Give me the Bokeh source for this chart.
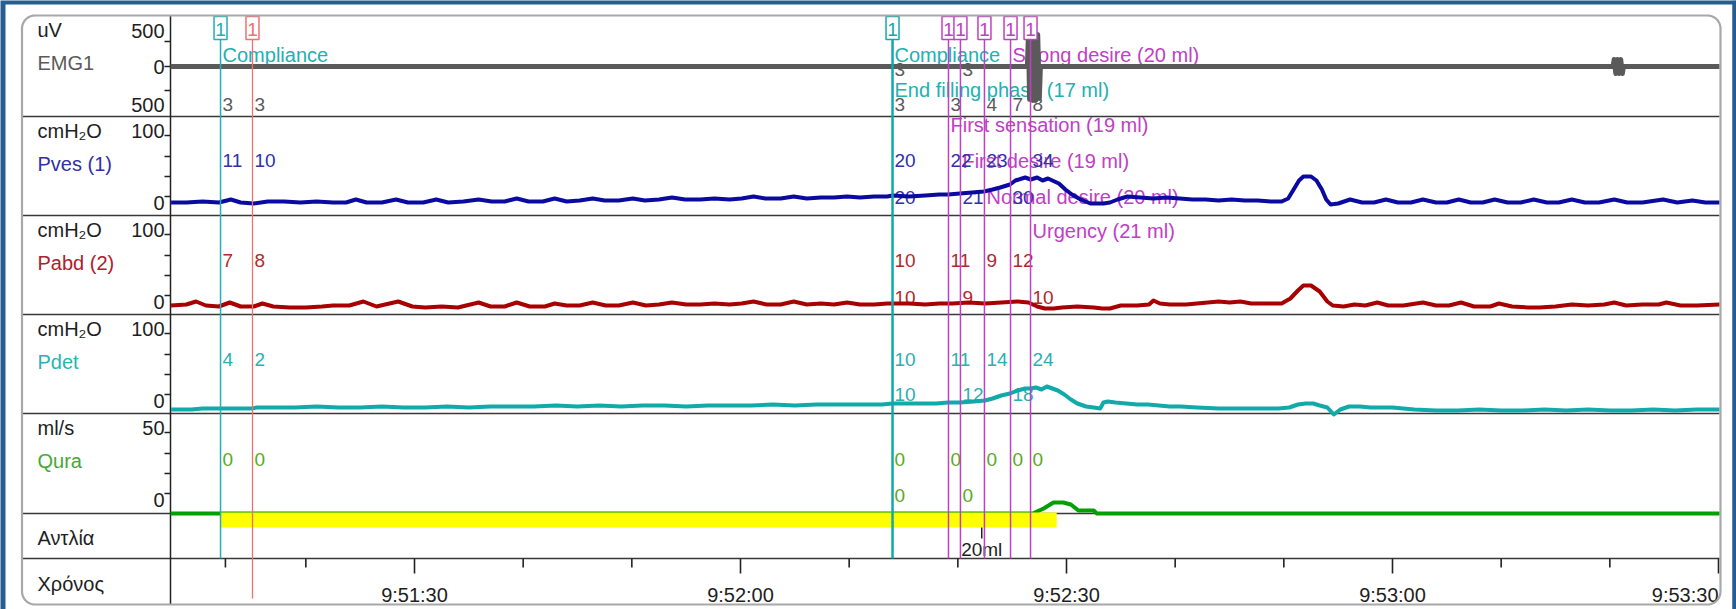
import numpy as np
from bokeh.plotting import figure
from bokeh.models import Range1d, ColumnDataSource
from bokeh.core.properties import value
from bokeh.embed import file_html
from bokeh.resources import INLINE

# ================= DATA (time = seconds after 9:51:00) =================
time_major = [30, 60, 90, 120, 150]
time_major_labels = ["9:51:30", "9:52:00", "9:52:30", "9:53:00", "9:53:30"]
time_minor = [12.6, 20, 40, 50, 70, 80, 100, 110, 130, 140]

channel_names = ["EMG1", "Pves (1)", "Pabd (2)", "Pdet", "Qura"]
channel_units = ["uV", "cmH₂O", "cmH₂O", "cmH₂O", "ml/s"]
channel_top_labels = ["500", "100", "100", "100", "50"]

emg = [(7.55, 0), (86.4, 0), (86.5, 330), (86.6, -330), (86.75, 340), (86.9, -340),
       (87.05, 330), (87.2, -335), (87.35, 320), (87.5, -320), (87.6, 0), (140.3, 0),
       (140.4, 70), (140.55, -70), (140.7, 70), (140.85, -70), (141.0, 70), (141.15, -70),
       (141.25, 0), (150.1, 0)]

pves = [(7.6, 11), (9.0, 11), (10.5, 12), (12.0, 11), (13.1, 14), (14.0, 11), (15.2, 10), (16.5, 12),
        (18.0, 12), (19.5, 11), (21.0, 12), (22.5, 11), (23.7, 11), (24.6, 14), (25.6, 11), (27.0, 11),
        (28.3, 14), (29.4, 11), (30.8, 11), (32.0, 14), (33.1, 11), (34.5, 12), (35.9, 14), (37.1, 12),
        (38.3, 12), (39.4, 15), (40.5, 12), (41.8, 12), (42.9, 15), (44.0, 12), (45.2, 13), (46.4, 15),
        (47.5, 13), (48.8, 13), (50.1, 15), (51.2, 13), (52.5, 14), (53.7, 16), (54.9, 14), (56.3, 14),
        (57.6, 15), (59.0, 14), (60.1, 15), (61.2, 17), (62.3, 15), (63.7, 15), (64.9, 17), (66.1, 15),
        (67.4, 16), (68.6, 16), (69.8, 17), (71.0, 16), (72.3, 17), (73.5, 17), (74.0, 18), (75.5, 17),
        (77.0, 18), (78.3, 19), (79.1, 19), (80.2, 20), (81.3, 21), (82.4, 22), (83.2, 24), (83.9, 26),
        (84.8, 29), (85.3, 33), (86.2, 36), (86.7, 34), (87.3, 36), (87.8, 33), (88.3, 35), (88.7, 33),
        (89.3, 30), (89.9, 24), (90.5, 19), (91.3, 14), (92.2, 10), (93.4, 10), (94.0, 11), (94.7, 14),
        (95.6, 17), (96.8, 16), (98.0, 15), (99.2, 16), (100.4, 15), (101.6, 14), (102.8, 14), (104.0, 13),
        (105.2, 14), (106.4, 13), (107.6, 13), (108.8, 12), (109.8, 12), (110.4, 15), (110.9, 24),
        (111.4, 33), (111.8, 37), (112.5, 37), (113.0, 33), (113.5, 24), (113.9, 14), (114.3, 9),
        (115.0, 10), (116.1, 14), (117.2, 11), (118.3, 11), (119.4, 14), (120.5, 11), (121.7, 11),
        (122.8, 14), (124.0, 11), (125.0, 11), (126.1, 14), (127.2, 11), (128.3, 11), (129.4, 14),
        (130.6, 11), (131.8, 11), (133.0, 14), (134.2, 11), (135.3, 11), (136.5, 14), (137.7, 11),
        (139.0, 11), (140.4, 14), (141.6, 11), (143.0, 11), (144.9, 14), (146.2, 11), (147.6, 13),
        (148.8, 11), (150.1, 11)]

pabd = [(7.6, 8), (9.0, 9), (9.9, 12), (10.8, 8), (12.0, 7), (13.0, 11), (14.0, 7), (15.2, 7), (16.0, 10),
        (17.0, 7), (18.5, 6), (20.0, 6), (21.5, 7), (22.5, 8), (24.0, 8), (25.3, 12), (26.5, 7), (28.5, 12),
        (29.8, 7), (31.0, 6), (32.5, 7), (34.0, 6), (35.9, 11), (37.0, 7), (38.3, 7), (39.4, 11), (40.6, 7),
        (42.0, 7), (42.9, 10), (44.0, 8), (45.2, 8), (46.4, 11), (47.6, 8), (48.8, 8), (50.1, 11), (51.3, 8),
        (52.5, 9), (53.7, 11), (55.0, 9), (56.3, 9), (57.6, 10), (59.0, 9), (60.1, 10), (61.2, 12), (62.4, 9),
        (63.7, 9), (64.9, 12), (66.1, 9), (67.4, 10), (68.6, 9), (69.8, 11), (71.0, 9), (72.3, 9), (73.5, 10),
        (74.0, 10), (75.5, 10), (77.0, 9), (78.3, 10), (79.5, 10), (81.0, 11), (82.5, 10), (84.0, 11),
        (85.5, 12), (86.5, 11), (87.3, 7), (88.0, 5), (88.8, 5), (89.6, 6), (91.0, 7), (92.5, 6), (93.3, 5),
        (94.0, 5), (95.0, 8), (96.5, 8), (97.6, 9), (98.0, 13), (98.6, 10), (99.5, 9), (101.0, 9),
        (102.0, 10), (103.0, 11), (104.0, 12), (105.0, 11), (106.0, 12), (107.0, 10), (108.5, 10),
        (109.8, 10), (110.6, 15), (111.3, 23), (111.8, 28), (112.5, 28), (113.3, 22), (114.0, 12),
        (114.5, 8), (115.5, 7), (116.5, 9), (117.5, 8), (118.6, 11), (119.6, 8), (121.0, 8), (122.8, 11),
        (124.0, 8), (125.2, 8), (126.3, 11), (127.5, 7), (129.0, 7), (129.8, 10), (131.0, 7), (132.5, 6),
        (133.5, 6), (135.0, 7), (136.5, 9), (138.0, 8), (139.5, 9), (140.4, 11), (141.5, 8), (143.0, 9),
        (144.5, 9), (145.2, 11), (146.5, 8), (148.0, 8), (150.1, 9)]

pdet = [(7.6, 3), (9.5, 3), (10.5, 4), (12.0, 4), (13.5, 4), (15.0, 4), (15.5, 5), (17.0, 5), (19.0, 5),
        (21.0, 6), (23.0, 5), (25.0, 5), (27.0, 6), (29.0, 5), (31.0, 5), (33.0, 6), (35.0, 5), (37.0, 6),
        (39.0, 6), (41.0, 6), (43.0, 7), (45.0, 6), (47.0, 7), (49.0, 6), (51.0, 7), (53.0, 7), (55.0, 6),
        (57.0, 7), (59.0, 7), (61.0, 7), (63.0, 8), (65.0, 7), (67.0, 8), (69.0, 8), (71.0, 8), (73.0, 8),
        (74.0, 9), (76.0, 9), (78.0, 9), (79.1, 10), (80.2, 10), (81.5, 11), (82.5, 12), (83.2, 14),
        (84.0, 17), (84.8, 19), (85.5, 22), (86.2, 24), (86.7, 24), (87.2, 25), (87.7, 23), (88.2, 26),
        (88.7, 24), (89.2, 22), (89.8, 18), (90.4, 13), (91.0, 9), (91.8, 6), (92.5, 5), (93.1, 4),
        (93.4, 10), (93.8, 11), (94.5, 10), (95.5, 9), (96.5, 8), (97.5, 8), (98.5, 7), (99.5, 6),
        (100.5, 6), (102.0, 5), (104.0, 4), (106.0, 4), (108.0, 4), (109.5, 4), (110.5, 5), (111.3, 8),
        (112.0, 9), (112.7, 9), (113.3, 7), (114.0, 5), (114.6, -2), (115.2, 3), (116.0, 6), (117.0, 6),
        (118.0, 5), (119.0, 5), (120.0, 5), (121.0, 4), (122.0, 3), (124.0, 2), (126.0, 2), (128.0, 3),
        (130.0, 2), (132.0, 2), (134.0, 3), (136.0, 2), (138.0, 3), (140.0, 2), (142.0, 2), (144.0, 3),
        (146.0, 2), (148.0, 3), (150.1, 3)]

qura = [(7.55, 0), (86.9, 0), (87.9, 2.5), (88.8, 5.5), (89.7, 5.5), (90.4, 4.5), (91.1, 1.5),
        (91.8, 1.5), (92.5, 1.5), (92.8, 0), (150.1, 0)]

pump_on, pump_off = 12.15, 89.1          # Αντλία (pump) running
pump_mark_t, pump_mark_label = 82.2, "20ml"

marker_t = [12.15, 15.09, 73.99, 79.14, 80.24, 82.45, 84.85, 86.69]
marker_kind = ["c1", "r", "c2", "m", "m", "m", "m", "m"]
marker_box_label = ["1", "1", "1", "1", "1", "1", "1", "1"]

event_text = ["Compliance", "Compliance", "End filling phase (17 ml)", "Strong desire (20 ml)",
              "First sensation (19 ml)", "First desire (19 ml)", "Normal desire (20 ml)", "Urgency (21 ml)"]
event_marker = [0, 2, 2, 6, 3, 4, 5, 7]
event_slot = [0, 0, 1, 0, 2, 3, 4, 5]

readouts = {
    "emg":  ({0: "3", 1: "3", 2: "3", 3: "3", 5: "4", 6: "7", 7: "8"}, {2: "3", 4: "3"}),
    "pves": ({0: "11", 1: "10", 2: "20", 3: "22", 5: "23", 7: "34"}, {2: "20", 4: "21", 6: "30"}),
    "pabd": ({0: "7", 1: "8", 2: "10", 3: "11", 5: "9", 6: "12"}, {2: "10", 4: "9", 7: "10"}),
    "pdet": ({0: "4", 1: "2", 2: "10", 3: "11", 5: "14", 7: "24"}, {2: "10", 4: "12", 6: "18"}),
    "qura": ({0: "0", 1: "0", 2: "0", 3: "0", 5: "0", 6: "0", 7: "0"}, {2: "0", 4: "0"}),
}

# ================= LAYOUT / STYLE =================
W, H = 1736, 609
PX_PER_S = 326 / 30.0
X_AT_60 = 740
T0 = 60 - X_AT_60 / PX_PER_S
T1 = 60 + (W - X_AT_60) / PX_PER_S
FONT = value("Liberation Sans")
BLUE_BG = "#285d8f"
DARK = "#1e1e1e"
CYAN, CYAN2, RED, MAG = "#22b0b2", "#12a8aa", "#f07070", "#c040c4"
AX_X, LEFT_X, RIGHT_X = 170, 21, 1719
ROW_TOPS = [15, 116, 215, 314, 413]
SEPS = [116, 215, 314, 413, 513, 558]
BOTTOM_Y = 604

CH = ["emg", "pves", "pabd", "pdet", "qura"]
ZERO = {"emg": 66, "pves": 213, "pabd": 313, "pdet": 412, "qura": 513}
KPX = {"emg": 0.1, "pves": 1.0, "pabd": 1.0, "pdet": 1.0, "qura": 2.0}
TRACE_COL = {"emg": "#5a5a5a", "pves": "#0a0aa0", "pabd": "#a80000", "pdet": "#10aaaa", "qura": "#00a000"}
TRACE_W = {"emg": 5, "pves": 4, "pabd": 4, "pdet": 4, "qura": 4}
NAME_COL = ["#5a5a5a", "#3030a8", "#b0202a", "#2ab3b3", "#44aa33"]
READ_COL = {"emg": "#5a5a5a", "pves": "#3030a8", "pabd": "#b02a2a", "pdet": "#2ab0b0", "qura": "#5aaa22"}
READ_Y = {"emg": (104, 69), "pves": (160, 197), "pabd": (260, 297), "pdet": (359, 394), "qura": (459, 495)}
SLOT_Y = [54, 89, 124.5, 160, 196, 230]

p = figure(width=W, height=H, x_range=Range1d(T0, T1), y_range=Range1d(H, 0),
           output_backend="svg", toolbar_location=None, tools="",
           x_axis_location=None, y_axis_location=None, min_border=0,
           background_fill_color=BLUE_BG, border_fill_color=BLUE_BG, outline_line_color=None)
p.grid.visible = False
p.extra_x_ranges = {"px": Range1d(0, W)}
p.extra_y_ranges = {c: Range1d(start=(ZERO[c] - H) / KPX[c], end=ZERO[c] / KPX[c]) for c in CH}

# white panel
p.quad(left=[5], right=[1732], top=[4], bottom=[H], x_range_name="px", fill_color="white", line_color=None)

# separators, axis line, left ticks
p.segment(x0=[LEFT_X] * len(SEPS), x1=[RIGHT_X] * len(SEPS), y0=SEPS, y1=SEPS,
          x_range_name="px", line_color="#383838", line_width=1.6)
p.segment(x0=[AX_X], x1=[AX_X], y0=[15], y1=[BOTTOM_Y], x_range_name="px", line_color="#222222", line_width=1.5)
tick_y = [41, 66, 90]
for rt in ROW_TOPS[1:]:
    tick_y += [rt + 19, rt + 40, rt + 60, rt + 80]
p.segment(x0=[AX_X - 6] * len(tick_y), x1=[AX_X] * len(tick_y), y0=tick_y, y1=tick_y,
          x_range_name="px", line_color="#222222", line_width=1.3)

# time axis ticks and labels (last label kept inside the frame)
p.segment(x0=time_major, x1=time_major, y0=[558] * 5, y1=[573] * 5, line_color="#222222", line_width=1.6)
p.segment(x0=time_minor, x1=time_minor, y0=[558] * len(time_minor), y1=[567] * len(time_minor),
          line_color="#222222", line_width=1.6)
talign = ["center"] * (len(time_major) - 1) + ["right"]
p.text(x="x", y="y", text="t", text_align="a",
       source=ColumnDataSource(dict(x=time_major, y=[594] * len(time_major), t=time_major_labels, a=talign)),
       text_font=FONT, text_font_size="20px", text_color=DARK, text_baseline="middle")

# left labels
lx, ly, lt, la, lc = [], [], [], [], []
def add(x, y, t, a, c):
    lx.append(x); ly.append(y); lt.append(t); la.append(a); lc.append(c)
add(37, 29.5, channel_units[0], "left", DARK)
add(164, 30.5, channel_top_labels[0], "right", DARK)
add(37, 62, channel_names[0], "left", NAME_COL[0])
add(164, 66, "0", "right", DARK)
add(164, 104, "500", "right", DARK)
for i in range(1, 5):
    rt = ROW_TOPS[i]
    add(37, rt + 14, channel_units[i], "left", DARK)
    add(164, rt + 14, channel_top_labels[i], "right", DARK)
    add(37, rt + 47, channel_names[i], "left", NAME_COL[i])
    add(164, rt + 86, "0", "right", DARK)
add(37, 537, "Αντλία", "left", DARK)
add(37, 583, "Χρόνος", "left", DARK)
p.text(x="x", y="y", text="t", text_align="a", text_color="c", x_range_name="px",
       source=ColumnDataSource(dict(x=lx, y=ly, t=lt, a=la, c=lc)),
       text_font=FONT, text_font_size="20px", text_baseline="middle")

# event texts
ex = [marker_t[m] for m in event_marker]
ey = [SLOT_Y[s] for s in event_slot]
ec = [CYAN if marker_kind[m].startswith("c") else MAG for m in event_marker]
p.text(x="x", y="y", text="t", text_color="c", x_offset=2,
       source=ColumnDataSource(dict(x=ex, y=ey, t=event_text, c=ec)),
       text_font=FONT, text_font_size="20px", text_baseline="middle", text_align="left")

# readout numbers
rx, ry, rtx, rc = [], [], [], []
for ch, (upper, lower) in readouts.items():
    for k, dct in enumerate((upper, lower)):
        for idx, txt in dct.items():
            rx.append(marker_t[idx]); ry.append(READ_Y[ch][k]); rtx.append(txt); rc.append(READ_COL[ch])
p.text(x="x", y="y", text="t", text_color="c", x_offset=2,
       source=ColumnDataSource(dict(x=rx, y=ry, t=rtx, c=rc)),
       text_font=FONT, text_font_size="19px", text_baseline="middle", text_align="left")

# traces
for ch, data in zip(CH, [emg, pves, pabd, pdet, qura]):
    p.line([a for a, b in data], [b for a, b in data], y_range_name=ch,
           line_color=TRACE_COL[ch], line_width=TRACE_W[ch], line_join="round")

# pump bar
p.quad(left=[pump_on], right=[pump_off], top=[512], bottom=[527], fill_color="#ffff00", line_color=None)
p.segment(x0=[pump_mark_t], x1=[pump_mark_t], y0=[527], y1=[538], line_color="#222222", line_width=1.5)
p.text(x=[pump_mark_t], y=[549], text=[pump_mark_label], text_font=FONT, text_font_size="19px",
       text_color=DARK, text_align="center", text_baseline="middle", x_offset=0)

# markers
MCOL = {"c1": CYAN, "c2": CYAN2, "r": RED, "m": MAG}
MW = {"c1": 1.5, "c2": 2.5, "r": 1.3, "m": 1.5}
for t, k in zip(marker_t, marker_kind):
    p.segment(x0=[t], x1=[t], y0=[39], y1=[598 if k == "r" else 558], line_color=MCOL[k], line_width=MW[k])
mc = [MCOL[k] for k in marker_kind]
p.rect(x=marker_t, y=[27.5] * len(marker_t), width=13, height=23, width_units="screen",
       fill_color="white", line_color=mc, line_width=1.5)
p.text(x=marker_t, y=[28.5] * len(marker_t), text=marker_box_label, text_color=mc, text_font=FONT,
       text_font_size="19px", text_align="center", text_baseline="middle")

# right edge of the panel
p.quad(left=[1732], right=[W], top=[0], bottom=[H], x_range_name="px", fill_color=BLUE_BG, line_color=None)

# rounded frame
def rounded(l, t, r, b, rad, n=12):
    xs, ys = [], []
    for cx, cy, a0, a1 in [(r - rad, t + rad, -90, 0), (r - rad, b - rad, 0, 90),
                           (l + rad, b - rad, 90, 180), (l + rad, t + rad, 180, 270)]:
        for a in np.linspace(np.radians(a0), np.radians(a1), n):
            xs.append(cx + rad * np.cos(a)); ys.append(cy + rad * np.sin(a))
    return xs + xs[:1], ys + ys[:1]
bx, by = rounded(21.5, 15, 1720, BOTTOM_Y, 13)
p.line(bx, by, x_range_name="px", line_color="#a8a8a8", line_width=2.2)

open("out.html", "w").write(file_html(p, INLINE))
